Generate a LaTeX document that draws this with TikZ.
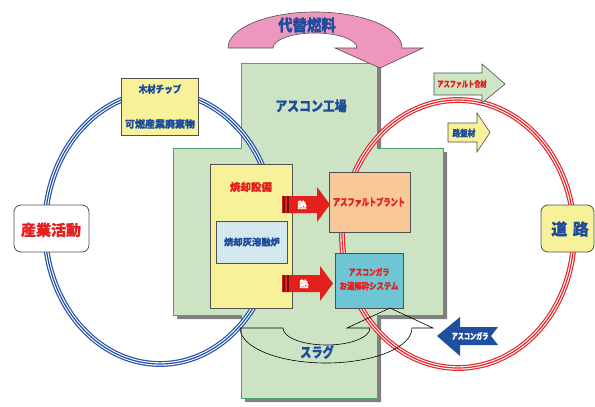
\documentclass[tikz,border=0pt]{standalone}
\usepackage{fontspec}
\usepackage{graphicx}
\setmainfont{Noto Sans CJK JP}
\definecolor{gfill}{HTML}{CCE4C3}
\definecolor{gedge}{HTML}{4FA06E}
\definecolor{shad}{HTML}{808080}
\definecolor{yfill}{HTML}{F7F29A}
\definecolor{lbfill}{HTML}{D2E8EE}
\definecolor{ofill}{HTML}{F8C898}
\definecolor{cfill}{HTML}{6EC5D3}
\definecolor{rtxt}{HTML}{E5201E}
\definecolor{btxt}{HTML}{1E4C9C}
\definecolor{pinkf}{HTML}{EE96BE}
\definecolor{ared}{HTML}{E3201C}
\definecolor{dred}{HTML}{6E1410}
\definecolor{ringb}{HTML}{2050A8}
\definecolor{ringr}{HTML}{E8262A}
\definecolor{edgec}{HTML}{505050}
\definecolor{lgreen}{HTML}{CDE6C4}
\definecolor{barrow}{HTML}{1F4FA0}
\newcommand{\jcond}[2]{\scalebox{#1}[1]{#2}}
\newcommand{\jfs}[1]{\bfseries\fontsize{#1}{#1}\selectfont\addfontfeatures{FakeBold=0.8}}
\begin{document}
\begin{tikzpicture}[x=1pt,y=-1pt,
  box/.style={draw=edgec, line width=0.8pt, inner sep=0pt, anchor=north west},
  lbl/.style={inner sep=0pt},
  arrowshape/.style={draw=edgec, line width=0.6pt}]
\useasboundingbox (0,0) rectangle (595,407);

% green plant area with shadow
\fill[shad] (245,67) -- (381,67) -- (381,152) -- (447,152) -- (447,319) -- (381,319) -- (381,402) -- (245,402) -- (245,319) -- (177,319) -- (177,152) -- (245,152) -- cycle;
\draw[fill=gfill, draw=gedge, line width=1pt] (241,63) -- (377,63) -- (377,148) -- (443,148) -- (443,315) -- (377,315) -- (377,398) -- (241,398) -- (241,315) -- (173,315) -- (173,148) -- (241,148) -- cycle;

% alternative fuel curved arrow
\draw[fill=pinkf, draw=edgec, line width=0.6pt] (228,48) arc[start angle=180, end angle=360, x radius=87, y radius=36] -- (423,48) -- (380,68) -- (335,48) -- (357,48) arc[start angle=0, end angle=-180, x radius=42, y radius=15] -- cycle;
\node[lbl, text=btxt, font=\jfs{16}] (fuel) at (307,25) {\jcond{0.9}{代替燃料}};

% rings
\foreach \w/\c in {5.8/ringb, 3.4/white, 1.2/ringb}
  \draw[line width=\w pt, \c] (160,228) ellipse [x radius=115, y radius=136];
\foreach \w/\c in {5.8/ringr, 3.4/white, 1.2/ringr}
  \draw[line width=\w pt, \c] (458,234) ellipse [x radius=116, y radius=134];

\node[lbl, text=btxt, font=\jfs{14}] (plant) at (311,106) {\jcond{0.85}{アスコン工場}};

% wood chip box
\node[box, fill=yfill, minimum width=77pt, minimum height=57pt] (wood) at (121,78) {};
\node[lbl, text=btxt, font=\jfs{10}] (woodA) at (160,89) {\jcond{0.85}{木材チップ}};
\node[lbl, text=btxt, font=\jfs{10}] (woodB) at (160,124) {可燃産業廃棄物};

% industry / road
\node[draw=edgec, fill=white, rounded corners=7pt, line width=0.8pt, minimum width=75pt, minimum height=47pt, inner sep=0pt] (ind) at (51.5,228.5) {};
\node[lbl, text=rtxt, font=\jfs{15}] (indl) at (51,230) {産業活動};
\node[draw=edgec, fill=yfill, rounded corners=7pt, line width=0.8pt, minimum width=53pt, minimum height=47pt, inner sep=0pt] (road) at (567.5,228.5) {};
\node[lbl, text=btxt, font=\jfs{16}] (roadl) at (570,229) {道\,\,路};

% incinerator
\node[box, fill=yfill, minimum width=82pt, minimum height=144pt] (furn) at (210,164) {};
\node[lbl, text=rtxt, font=\jfs{10.5}] (furnl) at (251,187) {焼却設備};
\node[box, fill=lbfill, minimum width=71pt, minimum height=42pt] (melt) at (216,221) {};
\node[lbl, text=btxt, font=\jfs{9.3}] (meltl) at (252,242) {焼却灰溶融炉};

% asphalt plant
\node[box, fill=ofill, minimum width=81pt, minimum height=60pt] (aplant) at (329,172) {};
\node[lbl, text=rtxt, font=\jfs{10}] (aplantl) at (369,202) {\jcond{0.72}{アスファルトプラント}};

% crushing system
\node[box, fill=cfill, minimum width=68pt, minimum height=55pt] (crush) at (335,253) {};
\node[lbl, text=rtxt, font=\jfs{9}] (crushA) at (369,272) {\jcond{0.75}{アスコンガラ}};
\node[lbl, text=rtxt, font=\jfs{9}] (crushB) at (369,286) {\jcond{0.82}{お湯解砕システム}};

% heat arrows
\fill[ared] (282,196) -- (317,196) -- (317,187) -- (330,204.5) -- (317,222) -- (317,213) -- (282,213) -- cycle;
\fill[dred] (283,196) rectangle (285,213);
\fill[dred] (287,196) rectangle (288.5,213);
\node[lbl, text=white, font=\jfs{9}] (heatA) at (302,205) {熱};
\fill[ared] (282,275) -- (320,275) -- (320,266) -- (333,283.5) -- (320,301) -- (320,292) -- (282,292) -- cycle;
\fill[dred] (283,275) rectangle (285,292);
\fill[dred] (287,275) rectangle (288.5,292);
\node[lbl, text=white, font=\jfs{9}] (heatB) at (304,284) {熱};

% slag arrow
\draw[black, line width=0.6pt] (240,328) -- (283,328) arc[start angle=180, end angle=0, x radius=43.5, y radius=17] -- (347,328) -- (390,308) -- (433,328) -- (412,328) arc[start angle=0, end angle=180, x radius=86, y radius=35] -- cycle;
\node[lbl, text=btxt, font=\jfs{14}] (slag) at (317,352) {\jcond{0.8}{スラグ}};

% product arrows
\draw[arrowshape, fill=lgreen] (434,73) -- (482,73) -- (482,64) -- (505,84) -- (482,103) -- (482,95) -- (434,95) -- cycle;
\node[lbl, text=rtxt, font=\jfs{8.5}] (mix) at (462,84) {\jcond{0.72}{アスファルト合材}};
\draw[arrowshape, fill=yfill] (448,123) -- (477,123) -- (477,113) -- (490,132.5) -- (477,152) -- (477,142) -- (448,142) -- cycle;
\node[lbl, text=btxt, font=\jfs{9}] (base) at (464,133) {\jcond{0.85}{路盤材}};

% return arrow
\fill[barrow] (437,336) -- (460,317) -- (460,327) -- (498,327) -- (491,336) -- (498,345) -- (460,345) -- (460,356) -- cycle;
\node[lbl, text=white, font=\jfs{8.5}] (gara) at (470,336) {\jcond{0.72}{アスコンガラ}};
\end{tikzpicture}
\end{document}
